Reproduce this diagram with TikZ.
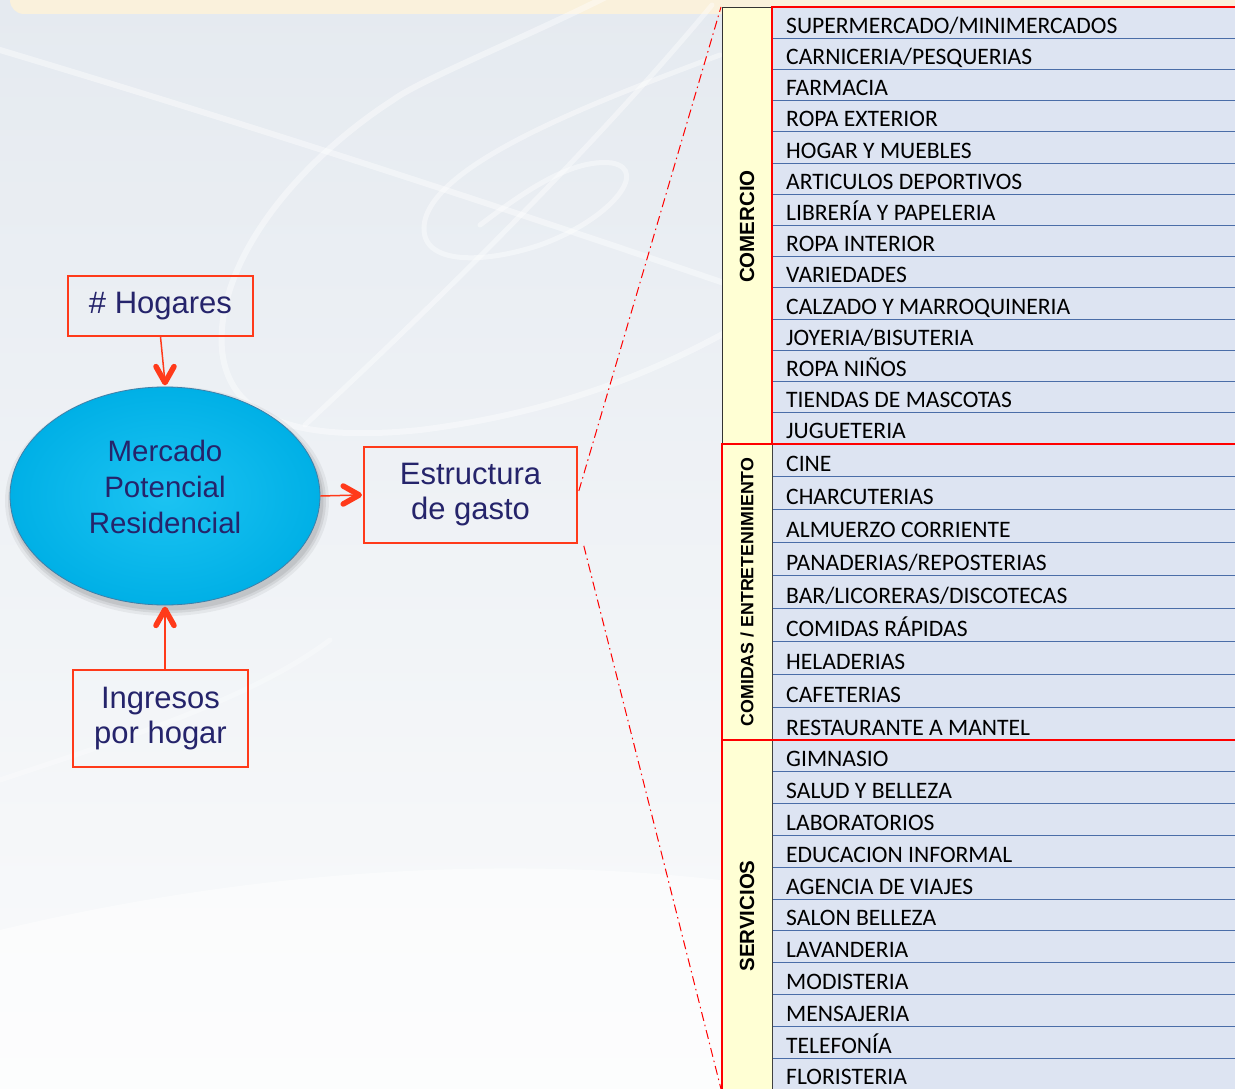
\documentclass[tikz,border=0pt]{standalone}
\usepackage{fontspec}
\setmainfont{Carlito}
\newfontfamily\arialfont{Liberation Sans}
\usetikzlibrary{shapes.geometric,arrows.meta,calc}

\definecolor{bgtop}{HTML}{E5EAF0}
\definecolor{bgmid}{HTML}{ECEFF3}
\definecolor{bgbot}{HTML}{FAFBFC}
\definecolor{banner}{HTML}{FAF1DC}
\definecolor{tabred}{HTML}{FF0000}
\definecolor{diagred}{HTML}{FF3A1A}
\definecolor{navy}{HTML}{25246B}
\definecolor{rowfill}{HTML}{DDE4F2}
\definecolor{rowline}{HTML}{4A6DA8}
\definecolor{catfill}{HTML}{FFFFD4}
\definecolor{cyanA}{HTML}{1CC3F2}
\definecolor{cyanB}{HTML}{00B0E6}
\definecolor{cyanRim}{HTML}{3F7FA8}

\begin{document}
\begin{tikzpicture}[x=1pt,y=-1pt,
  redbox/.style={draw=diagred, line width=1.6pt, text=navy,
    font=\arialfont\fontsize{31}{35}\selectfont, align=center, inner sep=0pt},
  flow/.style={draw=diagred, line width=1.5pt},
  chevron/.style={draw=diagred, line width=5.5pt, line cap=round, line join=round},
  link/.style={draw=tabred, line width=1pt, dash pattern=on 9pt off 4pt on 1.5pt off 4pt},
  item/.style={anchor=base west, font=\fontsize{23.6}{27}\selectfont, inner sep=0pt, text=black},
  cat/.style={rotate=90, font=\arialfont\bfseries\fontsize{20.5}{24}\selectfont, inner sep=0pt},
  rowsep/.style={draw=rowline, line width=1pt},
  grpbox/.style={draw=tabred, line width=2.3pt},
  swoosh/.style={draw=white, line width=6pt, opacity=.42, line cap=round}]

\useasboundingbox (0,0) rectangle (1235,1089);
\clip (0,0) rectangle (1235,1089);

% background
\shade[top color=bgtop, middle color=bgmid, bottom color=bgbot] (0,0) rectangle (1235,1089);
\fill[white, opacity=.5] (0,930) .. controls (250,870) and (500,855) .. (720,880)
  -- (720,1089) -- (0,1089) -- cycle;
\fill[banner, rounded corners=14pt] (10,-30) rectangle (1260,14);

% decorative swooshes
\draw[swoosh] (0,50) .. controls (250,125) and (480,200) .. (730,285);
\draw[swoosh] (610,-5) .. controls (520,40) and (420,80) .. (393,100)
  .. controls (300,160) and (215,260) .. (222,350)
  .. controls (230,430) and (320,440) .. (420,430)
  .. controls (540,415) and (640,380) .. (730,330);
\draw[swoosh, line width=5pt] (712,5) .. controls (600,140) and (450,290) .. (305,425);
\draw[swoosh, line width=5pt] (720,55) .. controls (600,100) and (440,160) .. (425,220)
  .. controls (415,265) and (480,265) .. (540,245)
  .. controls (610,220) and (650,170) .. (612,163)
  .. controls (570,158) and (520,195) .. (480,225);
\draw[swoosh, line width=5pt, opacity=.3] (0,780) .. controls (120,740) and (250,700) .. (330,640);

% main flow
\foreach \s/\a in {7/.05,4/.07,1.5/.08}
  \fill[black, opacity=\a] (167,501) ellipse [x radius=155pt+\s pt, y radius=108pt+\s pt];
\node[ellipse, minimum width=310pt, minimum height=218pt, inner color=cyanA, outer color=cyanB,
  draw=cyanRim, line width=.8pt] (mpr) at (165,496) {};
\node[text=navy, align=center, font=\arialfont\fontsize{29.5}{36}\selectfont, inner sep=0pt]
  (mprlabel) at (165,487) {Mercado\\Potencial\\Residencial};

\node[redbox, minimum width=185pt, minimum height=60pt] (hog) at (160.5,306) {\# Hogares};
\node[redbox, minimum width=175pt, minimum height=97pt] (ing) at (160.5,718.5) {Ingresos\\por hogar};
\node[redbox, minimum width=213pt, minimum height=96pt] (estr) at (470.5,495) {Estructura\\de gasto};

% connectors with open chevron heads
\coordinate (tipN) at ($(mpr.north)+(0,-4)$);
\coordinate (tipS) at ($(mpr.south)+(0,4)$);
\coordinate (tipE) at ($(estr.west)+(-4,0)$);
\draw[flow] (hog.south) -- (tipN);
\draw[chevron] ($(tipN)+(-9,-16)$) -- (tipN) -- ($(tipN)+(9,-16)$);
\draw[flow] (ing.north -| mpr.south) -- (tipS);
\draw[chevron] ($(tipS)+(-9,16)$) -- (tipS) -- ($(tipS)+(9,16)$);
\draw[flow] (mpr.east) -- (tipE);
\draw[chevron] ($(tipE)+(-16,-9)$) -- (tipE) -- ($(tipE)+(-16,9)$);

% table
\coordinate (ttop) at (721,7);
\coordinate (tbot) at (721,1089);
\fill[catfill] (722,7) rectangle (772,1100);
\fill[rowfill] (772,7) rectangle (1245,1100);

\foreach \i in {1,...,13} \draw[rowsep] (772,{7+\i*31.214}) -- (1245,{7+\i*31.214});
\foreach \i in {1,...,8} \draw[rowsep] (772,{444+\i*32.889}) -- (1245,{444+\i*32.889});
\foreach \i in {1,...,10} \draw[rowsep] (772,{740+\i*31.8}) -- (1245,{740+\i*31.8});

\draw[black!75, line width=1pt] (772,7) -- (772,1100);
\draw[black!80, line width=.9pt] (772,7) -- (722,7) -- (722,444);

\foreach \t [count=\i] in {{SUPERMERCADO/MINIMERCADOS},{CARNICERIA/PESQUERIAS},{FARMACIA},
  {ROPA EXTERIOR},{HOGAR Y MUEBLES},{ARTICULOS DEPORTIVOS},{LIBRERÍA Y PAPELERIA},
  {ROPA INTERIOR},{VARIEDADES},{CALZADO Y MARROQUINERIA},{JOYERIA/BISUTERIA},
  {ROPA NIÑOS},{TIENDAS DE MASCOTAS},{JUGUETERIA}}
  \node[item] (com-\i) at (786,{7+\i*31.214-5}) {\t};

\foreach \t [count=\i] in {{CINE},{CHARCUTERIAS},{ALMUERZO CORRIENTE},{PANADERIAS/REPOSTERIAS},
  {BAR/LICORERAS/DISCOTECAS},{COMIDAS RÁPIDAS},{HELADERIAS},{CAFETERIAS},{RESTAURANTE A MANTEL}}
  \node[item] (cen-\i) at (786,{444+\i*32.889-5}) {\t};

\foreach \t [count=\i] in {{GIMNASIO},{SALUD Y BELLEZA},{LABORATORIOS},{EDUCACION INFORMAL},
  {AGENCIA DE VIAJES},{SALON BELLEZA},{LAVANDERIA},{MODISTERIA},{MENSAJERIA},
  {TELEFONÍA},{FLORISTERIA}}
  \node[item] (ser-\i) at (786,{740+\i*31.8-5}) {\t};

\draw[grpbox] (772,7) rectangle (1245,444);
\draw[grpbox] (722,444) rectangle (1245,740);
\draw[grpbox] (722,740) rectangle (1245,1105);

\node[cat] (lcom) at (747,226.5) {COMERCIO};
\node[cat, font=\arialfont\bfseries\fontsize{17.8}{22}\selectfont] (lcen) at (747,592) {COMIDAS / ENTRETENIMIENTO};
\node[cat] (lser) at (747,916) {SERVICIOS};

% links from the spending structure to the table
\draw[link] ($(estr.east)+(1,-4)$) -- (ttop);
\draw[link] ($(estr.south east)+(6,2)$) -- (tbot);
\end{tikzpicture}
\end{document}
